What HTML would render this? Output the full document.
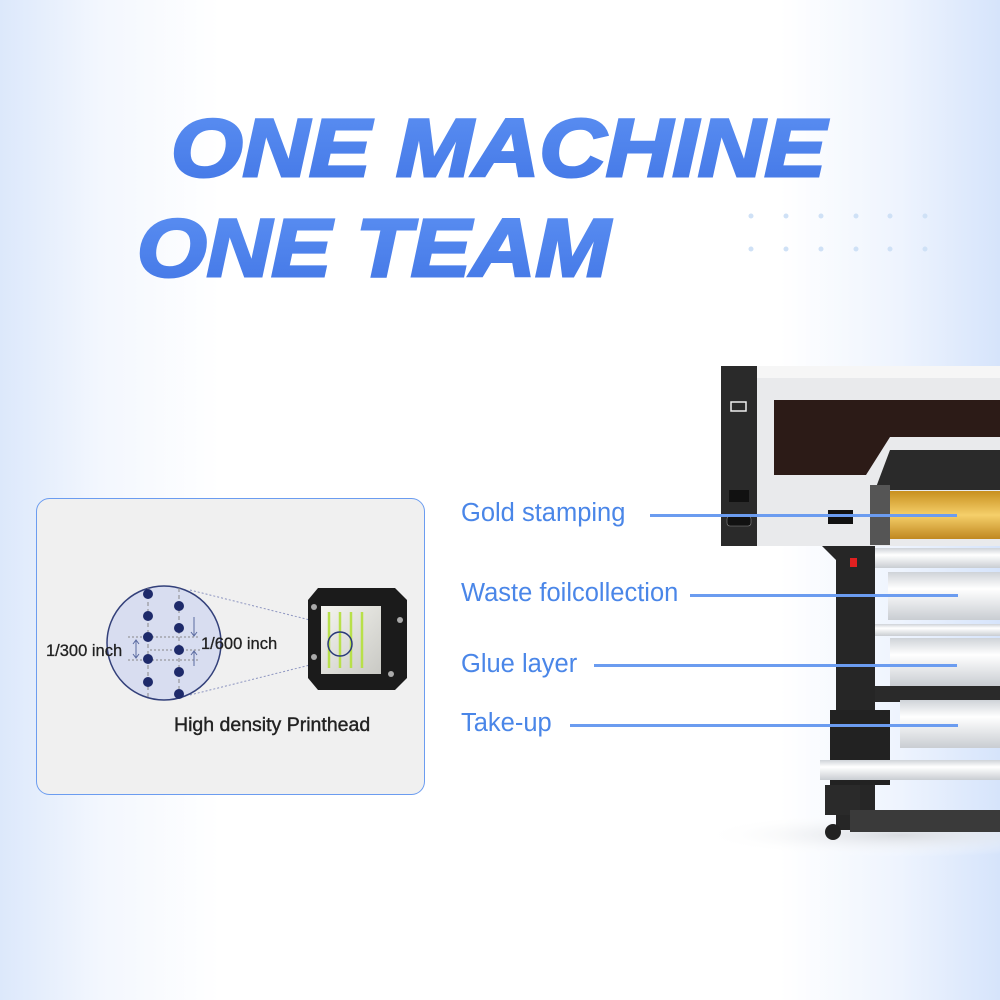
<!DOCTYPE html>
<html><head><meta charset="utf-8"><style>
html,body{margin:0;padding:0}
body{width:1000px;height:1000px;overflow:hidden;position:relative;font-family:"Liberation Sans",sans-serif;
background:linear-gradient(90deg,#dce8fb 0%,#f3f7fe 10%,#ffffff 22%,#ffffff 78%,#eef4fe 90%,#d6e4fb 100%);}
.lbl{position:absolute;color:#4a86e8;font-size:25.5px;}
.ln{position:absolute;height:3px;background:#6b9cf0;}
</style></head><body>
<svg width="1000" height="1000" style="position:absolute;left:0;top:0">
<defs>
<linearGradient id="tg" x1="0" y1="0" x2="0" y2="1"><stop offset="0" stop-color="#5b8ff2"/><stop offset="1" stop-color="#4377e6"/></linearGradient>
<linearGradient id="gold" x1="0" y1="0" x2="0" y2="1"><stop offset="0" stop-color="#c8901e"/><stop offset="0.5" stop-color="#f5cf6a"/><stop offset="1" stop-color="#c08820"/></linearGradient>
<linearGradient id="roll" x1="0" y1="0" x2="0" y2="1"><stop offset="0" stop-color="#cfd3d8"/><stop offset="0.35" stop-color="#ffffff"/><stop offset="1" stop-color="#c9cdd2"/></linearGradient>
<linearGradient id="ph" x1="0" y1="0" x2="1" y2="1"><stop offset="0" stop-color="#f5f5f0"/><stop offset="1" stop-color="#c9c9c4"/></linearGradient>
<radialGradient id="sh" cx="0.5" cy="0.5" r="0.5"><stop offset="0" stop-color="#d8dbe0"/><stop offset="1" stop-color="#ffffff" stop-opacity="0"/></radialGradient>
</defs>
<text x="171" y="176" font-size="82" font-weight="bold" font-style="italic" fill="url(#tg)" stroke="url(#tg)" stroke-width="3" textLength="655" lengthAdjust="spacingAndGlyphs" font-family="Liberation Sans">ONE MACHINE</text>
<text x="137" y="276" font-size="82" font-weight="bold" font-style="italic" fill="url(#tg)" stroke="url(#tg)" stroke-width="3" textLength="473" lengthAdjust="spacingAndGlyphs" font-family="Liberation Sans">ONE TEAM</text>
<g fill="#cfe1f6">
<circle cx="751" cy="216" r="2.5"/><circle cx="786" cy="216" r="2.5"/><circle cx="821" cy="216" r="2.5"/><circle cx="856" cy="216" r="2.5"/><circle cx="890" cy="216" r="2.5"/><circle cx="925" cy="216" r="2.5"/>
<circle cx="751" cy="249" r="2.5"/><circle cx="786" cy="249" r="2.5"/><circle cx="821" cy="249" r="2.5"/><circle cx="856" cy="249" r="2.5"/><circle cx="890" cy="249" r="2.5"/><circle cx="925" cy="249" r="2.5"/>
</g>

<!-- printhead box -->
<rect x="36.5" y="498.5" width="388" height="296" rx="13" fill="#f0f0f0" stroke="#6b9cf0"/>
<line x1="190" y1="590" x2="330" y2="625" stroke="#8d95c0" stroke-dasharray="2,2"/>
<line x1="190" y1="695" x2="330" y2="660" stroke="#8d95c0" stroke-dasharray="2,2"/>
<circle cx="164" cy="643" r="57" fill="#d8ddf0" stroke="#33407a" stroke-width="1.5"/>
<line x1="148" y1="588" x2="148" y2="698" stroke="#888" stroke-dasharray="4,3"/>
<line x1="179" y1="588" x2="179" y2="698" stroke="#888" stroke-dasharray="4,3"/>
<g stroke="#888" stroke-dasharray="2,2"><line x1="128" y1="637" x2="200" y2="637"/><line x1="128" y1="660" x2="200" y2="660"/><line x1="150" y1="650" x2="200" y2="650"/></g>
<g fill="#1e2a6a">
<circle cx="148" cy="594" r="5"/><circle cx="148" cy="616" r="5"/><circle cx="148" cy="637" r="5"/><circle cx="148" cy="659" r="5"/><circle cx="148" cy="682" r="5"/>
<circle cx="179" cy="606" r="5"/><circle cx="179" cy="628" r="5"/><circle cx="179" cy="650" r="5"/><circle cx="179" cy="672" r="5"/><circle cx="179" cy="694" r="5"/>
</g>
<path d="M136 641 L136 657 M133 644 L136 640 L139 644 M133 654 L136 658 L139 654" stroke="#5a6aa0" fill="none"/>
<path d="M194 617 L194 635 M191 632 L194 636 L197 632 M194 652 L194 666 M191 655 L194 651 L197 655" stroke="#5a6aa0" fill="none"/>
<text x="46" y="656" font-size="16.5" fill="#222" stroke="#222" stroke-width="0.3" font-family="Liberation Sans">1/300 inch</text>
<text x="201" y="649" font-size="16.5" fill="#222" stroke="#222" stroke-width="0.3" font-family="Liberation Sans">1/600 inch</text>
<text x="174" y="731" font-size="19.5" fill="#222" stroke="#222" stroke-width="0.4" font-family="Liberation Sans">High density Printhead</text>
<!-- printhead device -->
<path d="M318 588 L395 588 L407 600 L407 678 L395 690 L318 690 L308 678 L308 600 Z" fill="#1b1b1b"/>
<rect x="321" y="606" width="60" height="68" fill="url(#ph)"/>
<g stroke="#b8e04a" stroke-width="2.5"><line x1="329" y1="612" x2="329" y2="668"/><line x1="340" y1="612" x2="340" y2="668"/><line x1="351" y1="612" x2="351" y2="668"/><line x1="362" y1="612" x2="362" y2="668"/></g>
<circle cx="340" cy="644" r="12" fill="none" stroke="#2a3a7a" stroke-width="1.5"/>
<g fill="#aaa"><circle cx="314" cy="607" r="3"/><circle cx="400" cy="620" r="3"/><circle cx="314" cy="657" r="3"/><circle cx="391" cy="674" r="3"/></g>

<!-- machine -->
<ellipse cx="900" cy="835" rx="200" ry="22" fill="url(#sh)"/>
<rect x="721" y="366" width="36" height="180" fill="#2a2a2a"/>
<rect x="731" y="402" width="15" height="9" fill="none" stroke="#eee" stroke-width="1.5"/>
<rect x="729" y="490" width="20" height="12" fill="#111"/>
<rect x="727" y="516" width="24" height="10" rx="3" fill="#111" stroke="#888" stroke-width="0.6"/>
<rect x="757" y="366" width="243" height="180" fill="#e9eaec"/>
<rect x="757" y="366" width="243" height="12" fill="#f6f6f6"/>
<path d="M774 400 L1000 400 L1000 437 L890 437 L866 475 L774 475 Z" fill="#2c1b17"/>
<path d="M890 450 L1000 450 L1000 490 L875 490 Z" fill="#2a2a2a"/>
<rect x="870" y="485" width="20" height="60" fill="#555"/>
<rect x="890" y="491" width="110" height="48" fill="url(#gold)"/>
<rect x="828" y="510" width="25" height="14" fill="#111"/>
<path d="M822 546 L875 546 L875 830 L836 830 L836 560 Z" fill="#262626"/>
<rect x="850" y="558" width="7" height="9" fill="#e02020"/>
<rect x="875" y="548" width="125" height="20" fill="url(#roll)"/>
<rect x="888" y="572" width="112" height="48" fill="url(#roll)"/>
<rect x="875" y="624" width="125" height="12" fill="url(#roll)"/>
<rect x="890" y="638" width="110" height="48" fill="url(#roll)"/>
<rect x="875" y="686" width="125" height="16" fill="#2a2a2a"/>
<rect x="900" y="700" width="100" height="48" fill="url(#roll)"/>
<rect x="830" y="710" width="60" height="75" fill="#222"/>
<rect x="820" y="760" width="180" height="20" fill="url(#roll)"/>
<rect x="825" y="785" width="35" height="30" fill="#2a2a2a"/>
<rect x="850" y="810" width="150" height="22" fill="#3a3a3a"/>
<circle cx="833" cy="832" r="8" fill="#222"/>
</svg>

<div class="ln" style="left:650px;top:514px;width:307px"></div>
<div class="ln" style="left:690px;top:594px;width:268px"></div>
<div class="ln" style="left:594px;top:664px;width:363px"></div>
<div class="ln" style="left:570px;top:724px;width:388px"></div>
<div class="lbl" style="left:461px;top:499px">Gold stamping</div>
<div class="lbl" style="left:461px;top:579px">Waste foilcollection</div>
<div class="lbl" style="left:461px;top:650px">Glue layer</div>
<div class="lbl" style="left:461px;top:709px">Take-up</div>
</body></html>
